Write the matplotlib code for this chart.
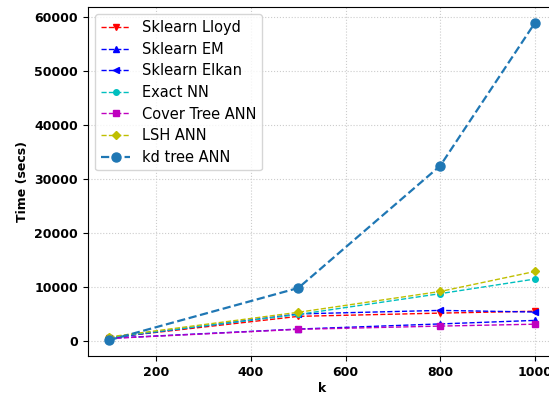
import matplotlib
matplotlib.use("Agg")
import matplotlib.pyplot as plt

# cluster counts
k_values = [100, 500, 800, 1000]

# run times in seconds
lloyd = [700, 4650, 5250, 5600]
em = [600, 2300, 3250, 3900]
elkan = [650, 5100, 5750, 5450]
exact_nn = [750, 5000, 8850, 11550]
cover_tree = [550, 2250, 2850, 3200]
lsh = [850, 5400, 9250, 12950]
kd_tree = [250, 9900, 32500, 58900]

series = [
    ("Sklearn Lloyd", lloyd, "r--v"),
    ("Sklearn EM", em, "b--^"),
    ("Sklearn Elkan", elkan, "b--<"),
    ("Exact NN", exact_nn, "c--o"),
    ("Cover Tree ANN", cover_tree, "m--s"),
    ("LSH ANN", lsh, "y--D"),
]

fig = plt.figure(figsize=(5.49, 3.96), dpi=100)
ax = fig.add_axes([0.160, 0.101, 0.853, 0.881])

for label, vals, fmt in series:
    ax.plot(k_values, vals, fmt, label=label, linewidth=1.0, markersize=4)
ax.plot(k_values, kd_tree, "--o", color="#1f77b4", label="kd tree ANN",
        linewidth=1.6, markersize=6.5)

ax.grid(True, linestyle=":", color="#cccccc", linewidth=0.8)
ax.set_xticks([200, 400, 600, 800, 1000])
ax.set_yticks([0, 10000, 20000, 30000, 40000, 50000, 60000])
for lbl in ax.get_xticklabels() + ax.get_yticklabels():
    lbl.set_fontweight("bold")
    lbl.set_fontsize(9)
ax.set_xlabel("k", fontweight="bold", fontsize=9, labelpad=2)
ax.set_ylabel("Time (secs)", fontweight="bold", fontsize=9)
ax.legend(loc="upper left", fontsize=10.5, framealpha=0.8, labelspacing=0.45)

fig.savefig("out.png", dpi=100)
